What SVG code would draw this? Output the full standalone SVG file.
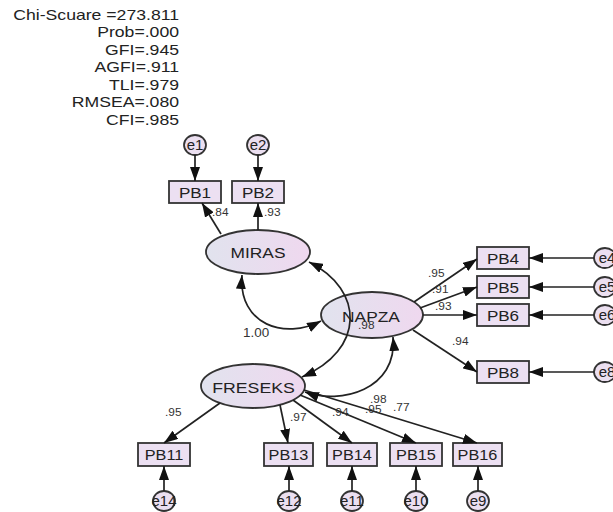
<svg xmlns="http://www.w3.org/2000/svg" width="613" height="512" viewBox="0 0 613 512">
<style>
text{font-family:"Liberation Sans",Arial,sans-serif;fill:#222}
.st{font-size:14px;text-anchor:end}
.nl{font-size:15.5px;text-anchor:middle}
.el{font-size:15px;text-anchor:middle}
.w{font-size:11px;fill:#333}
.bx{fill:#ece0f2;stroke:#333;stroke-width:1.8}
.lv{fill:url(#lg);stroke:#333;stroke-width:1.8}
.er{fill:#ebdff0;stroke:#333;stroke-width:1.8}
.ln{fill:none;stroke:#222;stroke-width:1.7;marker-end:url(#ah)}
.cv{fill:none;stroke:#222;stroke-width:1.7;marker-start:url(#ah);marker-end:url(#ah)}
</style>
<defs>
<linearGradient id="lg" x1="0" y1="0" x2="1" y2="0">
<stop offset="0" stop-color="#e1e3ee"/>
<stop offset="1" stop-color="#efd8ef"/>
</linearGradient>
<marker id="ah" viewBox="0 0 14 10" refX="14" refY="5" markerWidth="14" markerHeight="10" markerUnits="userSpaceOnUse" orient="auto-start-reverse">
<path d="M0,0 L14,5 L0,10 z" fill="#111"/>
</marker>
</defs>
<rect width="613" height="512" fill="#fff"/>
<g id="stats">
<text class="st" transform="translate(179,20) scale(1.26,1)">Chi-Scuare =273.811</text>
<text class="st" transform="translate(179,37) scale(1.26,1)">Prob=.000</text>
<text class="st" transform="translate(179,55) scale(1.26,1)">GFI=.945</text>
<text class="st" transform="translate(179,72) scale(1.26,1)">AGFI=.911</text>
<text class="st" transform="translate(179,90) scale(1.26,1)">TLI=.979</text>
<text class="st" transform="translate(179,107) scale(1.26,1)">RMSEA=.080</text>
<text class="st" transform="translate(179,125) scale(1.26,1)">CFI=.985</text>
</g>
<g id="MIRAS"><ellipse class="lv" cx="258" cy="252" rx="52" ry="22"/><text class="nl" transform="translate(258,258) scale(1.12,1)">MIRAS</text></g>
<g id="FRESEKS"><ellipse class="lv" cx="253" cy="386" rx="52" ry="22"/><text class="nl" transform="translate(253.5,392.5) scale(1.14,1)">FRESEKS</text></g>
<g id="NAPZA"><ellipse class="lv" cx="372" cy="315" rx="51" ry="23"/><text class="nl" transform="translate(371,321.5) scale(1.12,1)">NAPZA</text></g>
<g id="PB1"><rect class="bx" x="169" y="181" width="52" height="22"/><text class="nl" transform="translate(195,197.5) scale(1.1,1)">PB1</text></g>
<g id="PB2"><rect class="bx" x="232" y="181" width="52" height="22"/><text class="nl" transform="translate(258,197.5) scale(1.1,1)">PB2</text></g>
<g id="PB4"><rect class="bx" x="477" y="247" width="52" height="22"/><text class="nl" transform="translate(503,263.5) scale(1.1,1)">PB4</text></g>
<g id="PB5"><rect class="bx" x="477" y="276" width="52" height="22"/><text class="nl" transform="translate(503,292.5) scale(1.1,1)">PB5</text></g>
<g id="PB6"><rect class="bx" x="477" y="304" width="52" height="22"/><text class="nl" transform="translate(503,320.5) scale(1.1,1)">PB6</text></g>
<g id="PB8"><rect class="bx" x="477" y="361" width="52" height="22"/><text class="nl" transform="translate(503,377.5) scale(1.1,1)">PB8</text></g>
<g id="PB11"><rect class="bx" x="138" y="443" width="52" height="23"/><text class="nl" transform="translate(164,460) scale(1.05,1)">PB11</text></g>
<g id="PB13"><rect class="bx" x="264" y="443" width="49" height="23"/><text class="nl" transform="translate(288.5,460) scale(1.05,1)">PB13</text></g>
<g id="PB14"><rect class="bx" x="327" y="443" width="50" height="23"/><text class="nl" transform="translate(352,460) scale(1.05,1)">PB14</text></g>
<g id="PB15"><rect class="bx" x="390" y="443" width="52" height="23"/><text class="nl" transform="translate(416,460) scale(1.05,1)">PB15</text></g>
<g id="PB16"><rect class="bx" x="453" y="443" width="49" height="23"/><text class="nl" transform="translate(477.5,460) scale(1.05,1)">PB16</text></g>
<g id="e1"><ellipse class="er" cx="195" cy="145" rx="11" ry="10"/><text class="el" x="195" y="150">e1</text></g>
<g id="e2"><ellipse class="er" cx="258" cy="145" rx="11" ry="10"/><text class="el" x="258" y="150">e2</text></g>
<g id="e4"><ellipse class="er" cx="605" cy="258" rx="11" ry="10"/><text class="el" x="607" y="263">e4</text></g>
<g id="e5"><ellipse class="er" cx="605" cy="287" rx="11" ry="10"/><text class="el" x="607" y="292">e5</text></g>
<g id="e6"><ellipse class="er" cx="605" cy="315" rx="11" ry="10"/><text class="el" x="607" y="320">e6</text></g>
<g id="e8"><ellipse class="er" cx="605" cy="372" rx="11" ry="10"/><text class="el" x="607" y="377">e8</text></g>
<g id="e14"><ellipse class="er" cx="164" cy="501" rx="11" ry="10"/><text class="el" x="164" y="506">e14</text></g>
<g id="e12"><ellipse class="er" cx="289" cy="501" rx="11" ry="10"/><text class="el" x="289" y="506">e12</text></g>
<g id="e11"><ellipse class="er" cx="352" cy="501" rx="11" ry="10"/><text class="el" x="352" y="506">e11</text></g>
<g id="e10"><ellipse class="er" cx="416" cy="501" rx="11" ry="10"/><text class="el" x="416" y="506">e10</text></g>
<g id="e9"><ellipse class="er" cx="478" cy="501" rx="11" ry="10"/><text class="el" x="478" y="506">e9</text></g>
<g id="connectors">
<line class="ln" x1="195" y1="155" x2="195" y2="181"/>
<line class="ln" x1="258" y1="155" x2="258" y2="181"/>
<line class="ln" x1="221" y1="234" x2="202" y2="203"/>
<line class="ln" x1="258" y1="230" x2="258" y2="203"/>
<line class="ln" x1="414" y1="302" x2="477" y2="259"/>
<line class="ln" x1="420" y1="308" x2="477" y2="287"/>
<line class="ln" x1="423" y1="315" x2="477" y2="315"/>
<line class="ln" x1="413" y1="330" x2="477" y2="372"/>
<line class="ln" x1="594" y1="258" x2="529" y2="258"/>
<line class="ln" x1="594" y1="287" x2="529" y2="287"/>
<line class="ln" x1="594" y1="315" x2="529" y2="315"/>
<line class="ln" x1="594" y1="372" x2="529" y2="372"/>
<line class="ln" x1="220" y1="403" x2="164" y2="443"/>
<line class="ln" x1="280" y1="405" x2="288" y2="443"/>
<line class="ln" x1="293" y1="400" x2="352" y2="443"/>
<line class="ln" x1="300" y1="395" x2="416" y2="443"/>
<line class="ln" x1="304" y1="390" x2="477" y2="443"/>
<line class="ln" x1="164" y1="491" x2="164" y2="466"/>
<line class="ln" x1="289" y1="491" x2="289" y2="466"/>
<line class="ln" x1="352" y1="491" x2="352" y2="466"/>
<line class="ln" x1="416" y1="491" x2="416" y2="466"/>
<line class="ln" x1="478" y1="491" x2="478" y2="466"/>
<path class="cv" d="M242,275 C238,325 285,340 321,321"/>
<path class="cv" d="M309,262 C365,290 365,350 302,377"/>
<path class="cv" d="M393,337 C398,390 340,405 305,392"/>
</g>
<g id="weights">
<text class="w" transform="translate(212,216) scale(1.08,1)">.84</text>
<text class="w" transform="translate(264,216) scale(1.08,1)">.93</text>
<text class="w" style="font-size:12px" transform="translate(243,337) scale(1.12,1)">1.00</text>
<text class="w" transform="translate(428,277) scale(1.08,1)">.95</text>
<text class="w" transform="translate(432,293) scale(1.08,1)">.91</text>
<text class="w" transform="translate(435,310) scale(1.08,1)">.93</text>
<text class="w" transform="translate(452,345) scale(1.08,1)">.94</text>
<text class="w" transform="translate(165,416) scale(1.08,1)">.95</text>
<text class="w" transform="translate(290,421) scale(1.08,1)">.97</text>
<text class="w" transform="translate(332,416) scale(1.08,1)">.94</text>
<text class="w" transform="translate(365,413) scale(1.08,1)">.95</text>
<text class="w" transform="translate(370,403) scale(1.08,1)">.98</text>
<text class="w" transform="translate(393,411) scale(1.08,1)">.77</text>
<text class="w" transform="translate(358,329) scale(1.08,1)">.98</text>
</g>
</svg>
